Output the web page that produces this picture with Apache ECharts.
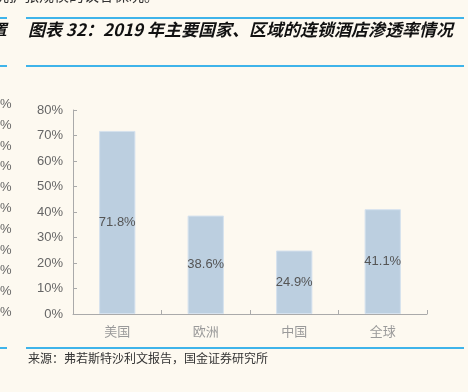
<!DOCTYPE html>
<html>
<head>
<meta charset="utf-8">
<script src="https://cdn.jsdelivr.net/npm/echarts@6/dist/echarts.min.js"></script>
<style>
  html, body { margin: 0; padding: 0; background: #fdf9f0; }
  #chart { width: 468px; height: 392px; }
</style>
</head>
<body>
<div id="chart"></div>
<script>
// 类别与数值
var categories = ['美国', '欧洲', '中国', '全球'];
var rates = [71.8, 38.6, 24.9, 41.1];
// 左侧邻图残留的刻度文字
var sideTicks = ['%', '%', '%', '%', '%', '%', '%', '%', '%', '%', '%'];

var titleText = '图表 32：2019 年主要国家、区域的连锁酒店渗透率情况';
var sourceText = '来源：弗若斯特沙利文报告，国金证券研究所';
var topText = '况扩张规模的议客保况。';

var cjk = '"Noto Sans CJK SC", sans-serif';
var latin = '"Liberation Sans", Arial, sans-serif';
var blue = '#3fb4ea';

var chart = echarts.init(document.getElementById('chart'));

var graphics = [
  // 上方正文残留
  { type: 'text', left: -6, top: -12, style: { text: topText, font: '15px ' + cjk, fill: '#333' } },
  { type: 'text', left: -8, top: 22, style: { text: '置', font: 'italic bold 15px ' + cjk, fill: '#111' } },
  // 蓝色分隔线
  { type: 'rect', shape: { x: 0, y: 17, width: 7, height: 2 }, style: { fill: blue } },
  { type: 'rect', shape: { x: 26, y: 17, width: 438, height: 2 }, style: { fill: blue } },
  { type: 'rect', shape: { x: 0, y: 65, width: 7, height: 2 }, style: { fill: blue } },
  { type: 'rect', shape: { x: 26, y: 65, width: 438, height: 2 }, style: { fill: blue } },
  { type: 'rect', shape: { x: 0, y: 347, width: 7, height: 2 }, style: { fill: blue } },
  { type: 'rect', shape: { x: 26, y: 347, width: 438, height: 2 }, style: { fill: blue } },
  // 标题
  { type: 'text', left: 28, top: 21, style: { text: titleText, font: 'italic bold 17px ' + cjk, fill: '#111' } },
  // 来源
  { type: 'text', left: 28, top: 352, style: { text: sourceText, font: '12px ' + cjk, fill: '#333' } }
];

sideTicks.forEach(function (t, i) {
  graphics.push({
    type: 'text', left: 0, top: 98 + i * 20.8,
    style: { text: t, font: '13px ' + latin, fill: '#666' }
  });
});

var option = {
  backgroundColor: '#fdf9f0',
  animation: false,
  grid: { left: 73, right: 41, top: 110, bottom: 78 },
  graphic: graphics,
  xAxis: {
    type: 'category',
    data: categories,
    axisLine: { lineStyle: { color: '#aaa', width: 1 } },
    axisTick: { show: true, inside: true, length: 4, lineStyle: { color: '#aaa' } },
    axisLabel: { color: '#9a9a9a', fontSize: 13, fontFamily: cjk, margin: 11 }
  },
  yAxis: {
    type: 'value',
    min: 0,
    max: 80,
    interval: 10,
    axisLine: { show: true, lineStyle: { color: '#aaa', width: 1 } },
    axisTick: { show: true, inside: true, length: 4, lineStyle: { color: '#aaa' } },
    splitLine: { show: false },
    axisLabel: { formatter: '{value}%', color: '#666', fontSize: 13, fontFamily: latin, margin: 10 }
  },
  series: [{
    type: 'bar',
    data: rates,
    barWidth: '41%',
    itemStyle: { color: '#bccfe0', borderColor: '#d6e2ee', borderWidth: 1 },
    label: {
      show: true,
      position: 'inside',
      formatter: '{c}%',
      color: '#555',
      fontSize: 13,
      fontFamily: latin
    }
  }]
};

chart.setOption(option);
</script>
</body>
</html>
